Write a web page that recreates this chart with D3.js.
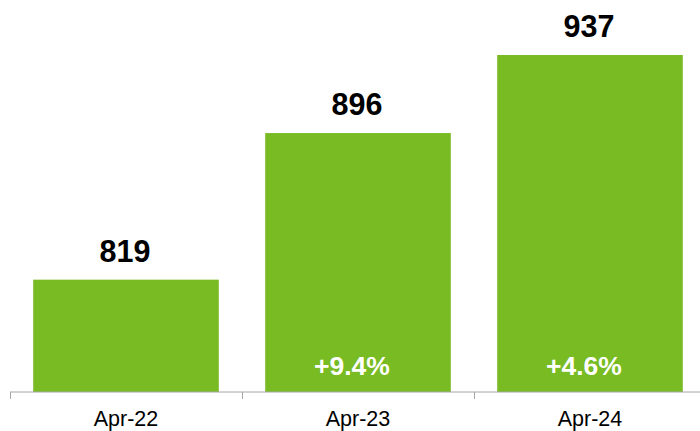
<!DOCTYPE html>
<html><head><meta charset="utf-8">
<script src="https://cdn.jsdelivr.net/npm/d3@7"></script>
<style>body{margin:0;background:#fff}svg{display:block}</style>
</head><body>
<svg id="c" width="700" height="431"></svg>
<script>
const categories = ["Apr-22", "Apr-23", "Apr-24"];
const values = [819, 896, 937];
const growthLabels = ["", "+9.4%", "+4.6%"];

const svg = d3.select("#c");
const font = "'Liberation Sans', Arial, Helvetica, sans-serif";
const x = d3.scaleBand().domain(categories).range([10, 706]).paddingInner(0.2).paddingOuter(0.1);
const y = d3.scaleLinear().domain([760, 937]).range([392, 55]);
const green = "#78bb22";

svg.selectAll("rect.bar").data(values).join("rect")
  .attr("class", "bar")
  .attr("x", (d, i) => x(categories[i]))
  .attr("width", x.bandwidth())
  .attr("y", d => y(d))
  .attr("height", d => y(760) - y(d))
  .attr("fill", green);

svg.selectAll("text.val").data(values).join("text")
  .attr("class", "val")
  .attr("x", (d, i) => x(categories[i]) + x.bandwidth() / 2 - 1)
  .attr("y", d => y(d) - 18)
  .attr("text-anchor", "middle")
  .attr("font-family", font).attr("font-weight", "bold").attr("font-size", 30.5)
  .attr("fill", "#000")
  .text(d => d);

svg.selectAll("text.growth").data(growthLabels).join("text")
  .attr("class", "growth")
  .attr("x", (d, i) => x(categories[i]) + x.bandwidth() / 2 - 6)
  .attr("y", 375)
  .attr("text-anchor", "middle")
  .attr("font-family", font).attr("font-weight", "bold").attr("font-size", 26.5)
  .attr("fill", "#fff")
  .text(d => d);

// axis
const axisY = 392;
svg.append("line").attr("x1", 10).attr("x2", 700).attr("y1", axisY).attr("y2", axisY)
  .attr("stroke", "#a6a6a6").attr("stroke-width", 1);
const tickXs = categories.map(c => x(c) - x.step() * x.paddingInner() / 2);
svg.selectAll("line.tick").data(tickXs).join("line")
  .attr("class", "tick")
  .attr("x1", d => Math.round(d) + 0.5).attr("x2", d => Math.round(d) + 0.5)
  .attr("y1", axisY).attr("y2", axisY + 7)
  .attr("stroke", "#a6a6a6").attr("stroke-width", 1);

svg.selectAll("text.cat").data(categories).join("text")
  .attr("class", "cat")
  .attr("x", d => x(d) + x.bandwidth() / 2)
  .attr("y", 426)
  .attr("text-anchor", "middle")
  .attr("font-family", font).attr("font-size", 21.5)
  .attr("fill", "#000")
  .text(d => d);
</script>
</body></html>
